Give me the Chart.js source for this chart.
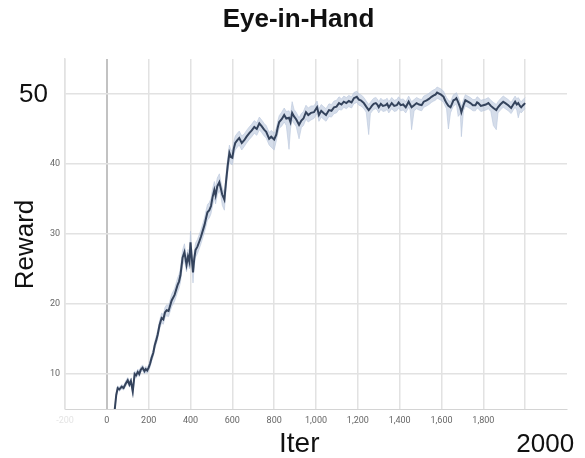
<!DOCTYPE html>
<html>
<head>
<meta charset="utf-8">
<script src="https://cdn.jsdelivr.net/npm/chart.js@4.4.1/dist/chart.umd.min.js"></script>
<style>
  html, body { margin: 0; padding: 0; background: #fff; }
  #wrap { width: 585px; height: 458px; }
</style>
</head>
<body>
<div id="wrap"><canvas id="rewardChart"></canvas></div>
<script>
// iterations (irregular spacing)
const iters = [
  38, 45, 52, 60, 71, 80, 90, 100, 108, 115,
  124, 133, 140, 148, 155, 162, 171, 180, 186, 193,
  200, 207, 214, 222, 229, 236, 243, 252, 262, 270,
  278, 286, 295, 300, 310, 324, 338, 345, 352, 362,
  371, 381, 388, 395, 400, 405, 412, 418, 424, 433,
  443, 450, 457, 467, 474, 481, 490, 498, 505, 514,
  520, 528, 538, 545, 552, 562, 570, 578, 586, 593,
  600, 607, 614, 624, 633, 645, 657, 668, 681, 693,
  705, 717, 729, 740, 752, 762, 776, 786, 800, 810,
  817, 824, 836, 848, 858, 871, 878, 886, 895, 905,
  919, 930, 940, 952, 963, 976, 990, 1005, 1014, 1025,
  1036, 1048, 1062, 1074, 1086, 1098, 1110, 1122, 1133, 1145,
  1157, 1170, 1181, 1195, 1205, 1214, 1222, 1229, 1240, 1252,
  1260, 1267, 1276, 1286, 1293, 1300, 1310, 1320, 1333, 1340,
  1348, 1355, 1362, 1374, 1386, 1395, 1405, 1417, 1429, 1436,
  1443, 1450, 1457, 1469, 1481, 1493, 1505, 1515, 1529, 1540,
  1552, 1563, 1571, 1579, 1586, 1598, 1610, 1617, 1624, 1633,
  1643, 1650, 1657, 1664, 1671, 1680, 1690, 1695, 1705, 1714,
  1726, 1738, 1750, 1762, 1770, 1776, 1788, 1800, 1812, 1824,
  1836, 1848, 1862, 1870, 1881, 1895, 1905, 1919, 1926, 1933,
  1943, 1952, 1960, 1967, 1975, 1981, 1990, 2000
];

// mean reward
const reward = [
  5.0, 7.0, 8.0, 7.8, 8.2, 8.0, 8.6, 9.1, 8.5, 9.0,
  7.5, 10.0, 9.8, 10.3, 10.0, 10.6, 10.9, 10.4, 10.7, 10.5,
  10.9, 11.5, 12.3, 13.0, 14.1, 14.8, 15.6, 17.0, 18.0, 17.8,
  18.8, 19.1, 19.0, 19.5, 20.5, 21.3, 22.7, 23.2, 24.1, 26.6,
  27.4, 25.6, 26.8, 26.0, 28.8, 27.0, 24.5, 26.5, 27.7, 28.2,
  29.0, 29.6, 30.3, 31.3, 32.2, 33.1, 33.4, 34.0, 35.2, 36.3,
  35.5, 36.8, 37.4, 36.5, 35.6, 34.9, 37.5, 39.8, 41.6, 41.0,
  40.9, 42.2, 43.0, 43.4, 43.7, 43.0, 43.4, 43.9, 44.4, 44.8,
  45.3, 45.0, 45.8, 45.4, 44.9, 44.6, 43.6, 43.9, 43.5, 44.2,
  45.2, 46.0, 46.4, 47.0, 46.5, 46.6, 46.0, 47.3, 46.8, 46.4,
  45.6, 46.2, 46.5, 47.4, 47.0, 47.3, 47.4, 48.1, 47.0, 47.6,
  47.3, 47.0, 47.7, 47.6, 48.1, 48.2, 48.7, 48.5, 48.9, 48.7,
  49.0, 48.8, 49.4, 49.6, 49.2, 49.1, 48.9, 48.7, 48.2, 47.7,
  48.0, 48.3, 48.6, 48.7, 48.5, 48.1, 48.6, 48.3, 48.4, 48.6,
  48.1, 48.4, 48.7, 48.3, 48.4, 48.8, 48.4, 48.5, 48.1, 48.5,
  48.9, 48.5, 48.1, 48.4, 48.7, 48.5, 48.4, 48.9, 49.1, 49.3,
  49.6, 49.8, 49.9, 50.2, 50.1, 49.9, 49.6, 49.1, 48.7, 48.3,
  48.1, 48.6, 49.1, 49.2, 49.4, 48.8, 48.0, 47.4, 48.4, 49.1,
  48.9, 48.7, 48.4, 48.4, 48.8, 48.7, 48.3, 48.4, 48.5, 48.7,
  48.3, 48.0, 47.7, 48.1, 48.5, 48.9, 48.7, 48.4, 48.2, 48.0,
  48.5, 48.9, 48.5, 48.7, 48.3, 48.1, 48.4, 48.7
];

// shaded band: distance above / below the mean
const spreadUp = [
  0.2, 0.3, 0.3, 0.3, 0.3, 0.3, 0.4, 0.4, 0.4, 0.4,
  0.4, 0.4, 0.4, 0.4, 0.4, 0.4, 0.4, 0.4, 0.4, 0.4,
  0.4, 0.5, 0.5, 0.5, 0.5, 0.6, 0.6, 0.6, 0.7, 0.7,
  0.7, 0.8, 0.8, 0.8, 0.9, 0.9, 1.0, 1.0, 1.0, 1.1,
  1.2, 1.0, 1.0, 1.0, 1.6, 1.0, 1.0, 1.0, 1.0, 1.0,
  1.0, 1.0, 1.0, 1.0, 1.1, 1.1, 1.1, 1.1, 1.2, 1.2,
  1.2, 1.2, 1.2, 1.0, 1.0, 1.0, 1.1, 1.1, 1.1, 1.0,
  1.0, 1.0, 1.0, 1.0, 1.0, 1.0, 0.9, 0.9, 0.9, 0.9,
  0.9, 0.9, 0.9, 0.9, 0.9, 0.9, 0.9, 0.9, 0.9, 0.9,
  0.9, 0.9, 1.0, 1.0, 1.0, 1.0, 1.0, 1.6, 1.0, 1.0,
  1.0, 1.0, 1.0, 1.0, 1.0, 1.0, 0.9, 0.9, 0.9, 0.9,
  0.9, 0.9, 0.9, 0.9, 0.9, 0.9, 0.9, 0.8, 0.8, 0.8,
  0.8, 0.8, 0.8, 0.8, 0.8, 0.8, 0.8, 0.8, 0.8, 0.8,
  0.8, 0.8, 0.8, 0.8, 0.8, 0.8, 0.8, 0.8, 0.8, 0.8,
  0.8, 0.8, 0.8, 0.8, 0.8, 0.8, 0.8, 0.8, 0.8, 0.8,
  0.8, 0.8, 0.8, 0.8, 0.8, 0.8, 0.8, 0.8, 0.8, 0.8,
  0.8, 0.8, 0.8, 0.8, 0.8, 0.8, 0.8, 0.8, 0.8, 0.8,
  0.8, 0.8, 0.8, 0.8, 0.8, 0.8, 0.8, 0.8, 0.8, 0.8,
  0.8, 0.8, 0.8, 0.8, 0.8, 0.8, 0.8, 0.8, 0.8, 0.8,
  0.8, 0.8, 0.8, 0.8, 0.8, 0.8, 0.8, 0.8, 0.8, 0.8,
  0.8, 0.8, 0.8, 0.8, 0.8, 0.8, 0.8, 0.8
];
const spreadDown = [
  0.2, 0.3, 0.3, 0.3, 0.3, 0.3, 0.4, 0.4, 0.4, 0.4,
  0.6, 0.4, 0.4, 0.4, 0.4, 0.4, 0.4, 0.4, 0.4, 0.4,
  0.4, 0.5, 0.5, 0.5, 0.5, 0.6, 0.6, 0.6, 0.7, 0.7,
  0.7, 0.8, 0.8, 0.8, 0.9, 0.9, 1.0, 1.0, 1.0, 1.1,
  1.2, 1.0, 1.0, 1.0, 1.2, 1.0, 1.5, 1.0, 1.0, 1.0,
  1.0, 1.0, 1.0, 1.0, 1.1, 1.1, 1.1, 1.1, 1.2, 1.2,
  1.2, 1.2, 1.2, 1.0, 1.5, 1.5, 1.1, 1.1, 1.1, 1.0,
  1.0, 1.0, 1.0, 1.0, 1.0, 1.0, 0.9, 0.9, 0.9, 0.9,
  0.9, 0.9, 0.9, 0.9, 0.9, 0.9, 0.9, 1.5, 1.5, 0.9,
  0.9, 0.9, 1.0, 1.0, 1.0, 4.5, 1.0, 1.0, 1.0, 1.0,
  2.0, 1.0, 1.0, 1.0, 1.0, 1.0, 0.9, 0.9, 0.9, 0.9,
  0.9, 0.9, 0.9, 0.9, 0.9, 0.9, 0.9, 0.8, 0.8, 0.8,
  0.8, 0.8, 0.8, 0.8, 0.8, 0.8, 0.8, 0.8, 0.8, 3.5,
  0.8, 0.8, 0.8, 0.8, 0.8, 0.8, 0.8, 0.8, 0.8, 0.8,
  0.8, 0.8, 0.8, 0.8, 0.8, 0.8, 0.8, 0.8, 0.8, 0.8,
  0.8, 0.8, 3.2, 0.8, 0.8, 0.8, 0.8, 0.8, 0.8, 0.8,
  0.8, 0.8, 0.8, 0.8, 0.8, 0.8, 0.8, 0.8, 0.8, 3.3,
  0.8, 0.8, 0.8, 0.8, 0.8, 2.0, 0.8, 3.5, 0.8, 0.8,
  0.8, 0.8, 0.8, 0.8, 0.8, 0.8, 0.8, 0.8, 0.8, 0.8,
  0.8, 2.5, 2.8, 0.8, 0.8, 0.8, 0.8, 0.8, 0.8, 0.8,
  0.8, 0.8, 0.8, 2.1, 0.8, 0.8, 0.8, 0.8
];

const xTicks = [-200, 0, 200, 400, 600, 800, 1000, 1200, 1400, 1600, 1800, 2000];
const yTicks = [10, 20, 30, 40, 50];
const bigXTick = 2000;
const bigYTick = 50;
const chartTitle = "Eye-in-Hand";

const meanPts = iters.map((x, i) => ({ x: x, y: reward[i] }));
const upperPts = iters.map((x, i) => ({ x: x, y: reward[i] + spreadUp[i] }));
const lowerPts = iters.map((x, i) => ({ x: x, y: reward[i] - spreadDown[i] }));

// title, big labels and axis titles drawn off the scales
const bigLabels = {
  id: "bigLabels",
  afterDraw(chart) {
    const ctx = chart.ctx;
    const xs = chart.scales.x, ys = chart.scales.y;
    ctx.save();
    ctx.fillStyle = "#111";
    ctx.textBaseline = "middle";
    ctx.textAlign = "center";
    ctx.font = "bold 26px 'Liberation Sans', Arial, sans-serif";
    ctx.fillText(chartTitle, chart.width / 2 + 6, 20);
    ctx.font = "26px 'Liberation Sans', Arial, sans-serif";
    ctx.textAlign = "right";
    ctx.fillText(String(bigYTick), ys.right - 17, ys.getPixelForValue(bigYTick) + 1);
    ctx.textAlign = "center";
    ctx.fillText(String(bigXTick), xs.getPixelForValue(bigXTick) + 20, xs.top + 36);
    ctx.font = "28px 'Liberation Sans', Arial, sans-serif";
    ctx.fillText("Iter", xs.getPixelForValue(920), xs.top + 35);
    ctx.font = "26px 'Liberation Sans', Arial, sans-serif";
    ctx.translate(ys.left + 26, ys.getPixelForValue(28.5));
    ctx.rotate(-Math.PI / 2);
    ctx.fillText("Reward", 0, 0);
    ctx.restore();
  }
};

new Chart(document.getElementById("rewardChart"), {
  type: "line",
  data: {
    datasets: [
      {
        data: meanPts,
        borderColor: "#34435c",
        borderWidth: 2,
        pointRadius: 0,
        fill: false
      },
      {
        data: lowerPts,
        borderColor: "rgba(185,198,220,0.6)",
        borderWidth: 1,
        pointRadius: 0,
        fill: false
      },
      {
        data: upperPts,
        borderColor: "rgba(185,198,220,0.6)",
        borderWidth: 1,
        backgroundColor: "rgba(185,198,220,0.6)",
        pointRadius: 0,
        fill: "-1"
      }
    ]
  },
  options: {
    responsive: true,
    maintainAspectRatio: false,
    animation: false,
    layout: { padding: { left: 0, right: 18, top: 59, bottom: 0 } },
    plugins: {
      legend: { display: false },
      tooltip: { enabled: false },
      title: { display: false }
    },
    scales: {
      x: {
        type: "linear",
        min: -200,
        max: 2200,
        afterBuildTicks: (s) => { s.ticks = xTicks.map(v => ({ value: v })); },
        afterFit: (s) => { s.height = 49; },
        border: { display: true, color: "#d4d4d4", width: 1 },
        grid: {
          drawTicks: false,
          color: (c) => c.tick && c.tick.value === 0 ? "#c2c2c2" : "#e2e2e2",
          lineWidth: (c) => c.tick && c.tick.value === 0 ? 2 : 1.5
        },
        ticks: {
          padding: 6,
          maxRotation: 0,
          autoSkip: false,
          font: { family: "Roboto, sans-serif", size: 9 },
          color: (c) => c.tick && c.tick.value === -200 ? "#e4e4e4" : "#666666",
          callback: (v) => v === bigXTick ? "" : v.toLocaleString("en-US")
        }
      },
      y: {
        min: 5,
        max: 55,
        afterBuildTicks: (s) => { s.ticks = yTicks.map(v => ({ value: v })); },
        afterFit: (s) => { s.width = 65; },
        border: { display: true, color: "#e2e2e2", width: 1.5 },
        grid: { drawTicks: false, color: "#e2e2e2", lineWidth: 1.5 },
        ticks: {
          padding: 5,
          font: { family: "Roboto, sans-serif", size: 9 },
          color: "#666666",
          callback: (v) => v === bigYTick ? "" : String(v)
        }
      }
    }
  },
  plugins: [bigLabels]
});
</script>
</body>
</html>
